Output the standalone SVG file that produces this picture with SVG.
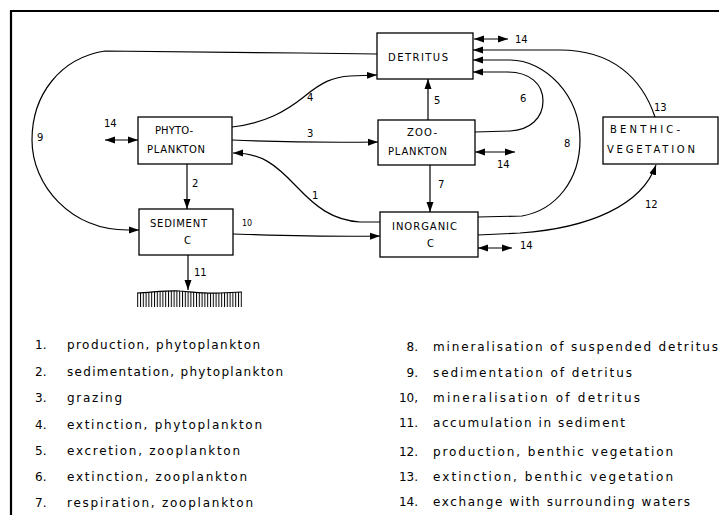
<svg xmlns="http://www.w3.org/2000/svg" width="719" height="515" viewBox="0 0 719 515">
<style>
.box{fill:#fff;stroke:#000;stroke-width:1.3}
.lbl{font-family:"DejaVu Sans","Liberation Sans",Arial,sans-serif;font-size:10px;fill:#000}
.num{font-family:"DejaVu Sans","Liberation Sans",Arial,sans-serif;font-size:10px;fill:#000}
.leg{font-family:"DejaVu Sans","Liberation Sans",Arial,sans-serif;font-size:12px;fill:#000}
.c{fill:none;stroke:#000;stroke-width:1.2}
.a{marker-end:url(#ah)}
.d{marker-end:url(#ah);marker-start:url(#ah)}
</style>
<defs>
<marker id="ah" markerUnits="userSpaceOnUse" markerWidth="10" markerHeight="8" refX="10" refY="4" orient="auto-start-reverse">
<path d="M0,0.5 L10,4 L0,7.5 z" fill="#000"/>
</marker>
<pattern id="hatch" patternUnits="userSpaceOnUse" width="2.8" height="20">
<rect x="0" y="0" width="1" height="20" fill="#000"/>
</pattern>
</defs>
<rect width="719" height="515" fill="#fff"/>
<path d="M11,515 L11,11 L719,11" fill="none" stroke="#000" stroke-width="2.2"/>

<g id="connectors">
<path class="c a" d="M377,54 L300,53 L105,51 C60,58 32,95 32,140 C32,185 70,230 128,230 L139,230"/>
<path class="c a" d="M232,127 C265,123 285,112 305,96 C322,82 333,77 350,76 L377,75"/>
<path class="c a" d="M232,140 C280,142 310,143 378,142"/>
<path class="c a" d="M380,222 L360,222 C332,220 316,207 296,186 C276,165 262,153 233,153"/>
<path class="c a" d="M233,234 C300,236 330,237 380,236"/>
<path class="c a" d="M187,164 L187,209"/>
<path class="c a" d="M188,255 L188,290"/>
<path class="c a" d="M428,120 L428,79"/>
<path class="c a" d="M430,165 L430,212"/>
<path class="c a" d="M475,132 L510,131 C530,130 543,118 543,101 C543,84 530,72 507,72 L473,72"/>
<path class="c a" d="M478,217 L522,216 C556,210 580,180 580,140 C580,95 545,60 510,60 L473,60"/>
<path class="c a" d="M655,117 C642,78 612,50 560,50 L473,50"/>
<path class="c a" d="M478,235 L520,233 C590,228 642,205 656,165"/>
<path class="c d" d="M105,140 L138,140"/>
<path class="c d" d="M474,39 L508,39"/>
<path class="c d" d="M475,152 L515,152"/>
<path class="c d" d="M478,248 L512,248"/>
</g>

<g id="ground">
<path d="M137,293 C155,292 170,290 180,291 C195,292 205,294 220,293 L242,292 L242,307 L137,307 Z" fill="url(#hatch)"/>
<path d="M137,293 C155,292 170,290 180,291 C195,292 205,294 220,293 L242,292" fill="none" stroke="#000" stroke-width="1.2"/>
</g>

<g id="detritus">
<rect class="box" x="377" y="33" width="96" height="46"/>
<text class="lbl" x="388" y="61" textLength="60" lengthAdjust="spacing">DETRITUS</text>
</g>
<g id="phytoplankton">
<rect class="box" x="138" y="117" width="94" height="47"/>
<text class="lbl" x="155" y="134" textLength="38" lengthAdjust="spacing">PHYTO-</text>
<text class="lbl" x="147" y="153" textLength="58" lengthAdjust="spacing">PLANKTON</text>
</g>
<g id="zooplankton">
<rect class="box" x="378" y="120" width="97" height="45"/>
<text class="lbl" x="407" y="136" textLength="30" lengthAdjust="spacing">ZOO-</text>
<text class="lbl" x="388" y="155" textLength="59" lengthAdjust="spacing">PLANKTON</text>
</g>
<g id="sediment">
<rect class="box" x="139" y="209" width="94" height="46"/>
<text class="lbl" x="150" y="227" textLength="57" lengthAdjust="spacing">SEDIMENT</text>
<text class="lbl" x="184" y="244">C</text>
</g>
<g id="inorganic">
<rect class="box" x="380" y="212" width="98" height="45"/>
<text class="lbl" x="392" y="230" textLength="65" lengthAdjust="spacing">INORGANIC</text>
<text class="lbl" x="427" y="247">C</text>
</g>
<g id="benthic">
<rect class="box" x="603" y="117" width="115" height="47"/>
<text class="lbl" x="610" y="133" textLength="70" lengthAdjust="spacing">BENTHIC-</text>
<text class="lbl" x="607" y="153" textLength="88" lengthAdjust="spacing">VEGETATION</text>
</g>

<g id="flow-labels">
<text class="num" x="37" y="141">9</text>
<text class="num" x="104" y="127">14</text>
<text class="num" x="307" y="101">4</text>
<text class="num" x="307" y="137">3</text>
<text class="num" x="192" y="187">2</text>
<text class="num" x="312" y="199">1</text>
<text class="num" x="242" y="226" style="font-size:8px">10</text>
<text class="num" x="194" y="276">11</text>
<text class="num" x="434" y="104">5</text>
<text class="num" x="520" y="102">6</text>
<text class="num" x="564" y="147">8</text>
<text class="num" x="654" y="111">13</text>
<text class="num" x="515" y="43">14</text>
<text class="num" x="497" y="168">14</text>
<text class="num" x="438" y="188">7</text>
<text class="num" x="645" y="208">12</text>
<text class="num" x="520" y="249">14</text>
</g>

<g id="legend">
<text class="leg" x="35" y="349">1.</text>
<text class="leg" x="67" y="349" textLength="193" lengthAdjust="spacing">production, phytoplankton</text>
<text class="leg" x="35" y="376">2.</text>
<text class="leg" x="67" y="376" textLength="216" lengthAdjust="spacing">sedimentation, phytoplankton</text>
<text class="leg" x="35" y="402">3.</text>
<text class="leg" x="67" y="402" textLength="55" lengthAdjust="spacing">grazing</text>
<text class="leg" x="35" y="429">4.</text>
<text class="leg" x="67" y="429" textLength="195" lengthAdjust="spacing">extinction, phytoplankton</text>
<text class="leg" x="35" y="455">5.</text>
<text class="leg" x="67" y="455" textLength="173" lengthAdjust="spacing">excretion, zooplankton</text>
<text class="leg" x="35" y="481">6.</text>
<text class="leg" x="67" y="481" textLength="180" lengthAdjust="spacing">extinction, zooplankton</text>
<text class="leg" x="35" y="507">7.</text>
<text class="leg" x="67" y="507" textLength="186" lengthAdjust="spacing">respiration, zooplankton</text>

<text class="leg" x="418" y="351" text-anchor="end">8.</text>
<text class="leg" x="433" y="351" textLength="285" lengthAdjust="spacing">mineralisation of suspended detritus</text>
<text class="leg" x="418" y="377" text-anchor="end">9.</text>
<text class="leg" x="433" y="377" textLength="199" lengthAdjust="spacing">sedimentation of detritus</text>
<text class="leg" x="418" y="402" text-anchor="end">10,</text>
<text class="leg" x="433" y="402" textLength="207" lengthAdjust="spacing">mineralisation of detritus</text>
<text class="leg" x="418" y="427" text-anchor="end">11.</text>
<text class="leg" x="433" y="427" textLength="192" lengthAdjust="spacing">accumulation in sediment</text>
<text class="leg" x="418" y="456" text-anchor="end">12.</text>
<text class="leg" x="433" y="456" textLength="240" lengthAdjust="spacing">production, benthic vegetation</text>
<text class="leg" x="418" y="481" text-anchor="end">13.</text>
<text class="leg" x="433" y="481" textLength="240" lengthAdjust="spacing">extinction, benthic vegetation</text>
<text class="leg" x="418" y="506" text-anchor="end">14.</text>
<text class="leg" x="433" y="506" textLength="257" lengthAdjust="spacing">exchange with surrounding waters</text>
</g>
</svg>
